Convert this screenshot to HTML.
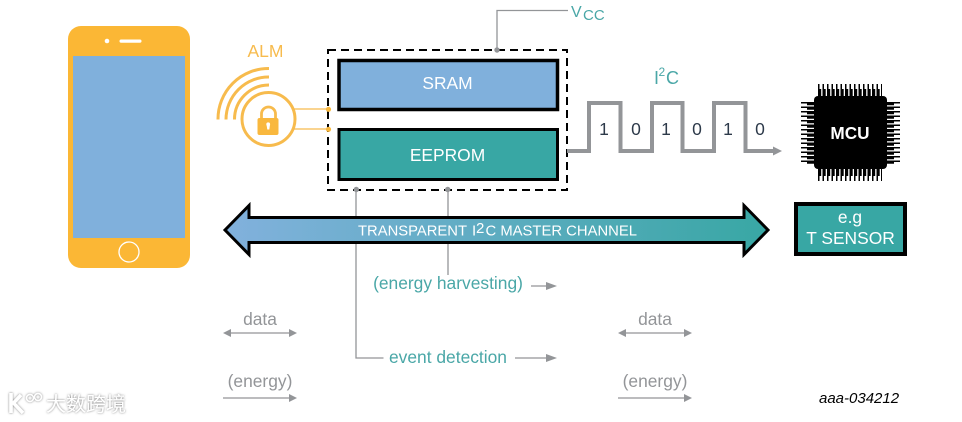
<!DOCTYPE html>
<html><head><meta charset="utf-8"><style>
html,body{margin:0;padding:0;background:#fff}
svg{display:block}
text{font-family:"Liberation Sans",Arial,sans-serif}
</style></head><body>
<svg width="962" height="422" viewBox="0 0 962 422" xmlns="http://www.w3.org/2000/svg">
<defs>
<linearGradient id="g" x1="223" x2="770" y1="0" y2="0" gradientUnits="userSpaceOnUse"><stop offset="0" stop-color="#82b1dd"/><stop offset="1" stop-color="#38a7a4"/></linearGradient>
<filter id="sh" x="-20%" y="-20%" width="140%" height="140%"><feDropShadow dx="0" dy="0" stdDeviation="1" flood-color="#666" flood-opacity="0.9"/></filter>
</defs>
<!-- phone -->
<rect x="68" y="26" width="122" height="242" rx="13" fill="#fbb735"/>
<rect x="73" y="56" width="112" height="182" fill="#80b0dc"/>
<circle cx="107" cy="41" r="2.300" fill="#fff"/>
<rect x="119.500" y="39.500" width="22" height="3.200" rx="1.600" fill="#fff"/>
<circle cx="129" cy="252" r="10" fill="none" stroke="#fff" stroke-width="1.300"/>
<!-- ALM -->
<text x="265.500" y="57" font-size="17.500" fill="#f7bb4d" text-anchor="middle">ALM</text>
<g fill="none" stroke="#f7bb4d">
<path d="M218 119.500A50.500 50.500 0 0 1 269 68.500" stroke-width="3"/>
<path d="M226 119.500A42.500 42.500 0 0 1 269 77" stroke-width="3"/>
<path d="M234.500 119.500A34.500 34.500 0 0 1 269 85" stroke-width="3"/>
<circle cx="268.500" cy="119" r="26.500" fill="#fff" stroke-width="3"/>
<path d="M261.500 120v-6a7 7 0 0 1 14 0v6" stroke-width="2.800"/>
<path d="M294 109H328M294 129H328" stroke-width="1.200"/>
</g>
<rect x="257.500" y="118" width="21" height="17" rx="2" fill="#f9b83e"/>
<path d="M266.500 124.500h3.500l-.7 5h-2z" fill="#fff"/>
<circle cx="268.200" cy="124.300" r="1.900" fill="#fff"/>
<!-- gray connectors -->
<g fill="none" stroke="#939598" stroke-width="1.300">
<path d="M497 50V10.500H568"/>
<path d="M356 190V358H383.500"/>
<path d="M448 190V275"/>
<path d="M531 286H548M515 358H548M231 333H289M223 398H289M626 333H684M618 398H684"/>
</g>
<g fill="#939598">
<path d="M546 282V290L557 286Z"/><path d="M546 354V362L557 358Z"/>
<path d="M223 333L231 329V337Z"/><path d="M297 333L289 329V337Z"/>
<path d="M297 398L289 394V402Z"/>
<path d="M618 333L626 329V337Z"/><path d="M692 333L684 329V337Z"/>
<path d="M692 398L684 394V402Z"/>
</g>
<!-- memory -->
<rect x="328" y="50" width="239" height="140" fill="none" stroke="#000" stroke-width="2" stroke-dasharray="8 5"/>
<circle cx="497" cy="50" r="2.700" fill="#939598"/><circle cx="356.300" cy="189.500" r="2.700" fill="#939598"/><circle cx="447.700" cy="189.500" r="2.700" fill="#939598"/>
<circle cx="328.500" cy="109.300" r="2.600" fill="#f9b83e"/><circle cx="328.500" cy="129.300" r="2.600" fill="#f9b83e"/>
<rect x="339" y="60.500" width="218.500" height="49" fill="#80b0dc" stroke="#000" stroke-width="3.500"/>
<rect x="339" y="129.500" width="218.500" height="50" fill="#38a7a4" stroke="#000" stroke-width="3"/>
<text x="447.500" y="89" font-size="17.400" fill="#fff" text-anchor="middle">SRAM</text>
<text x="447.500" y="161" font-size="17.400" fill="#fff" text-anchor="middle">EEPROM</text>
<text x="571" y="17" font-size="16" fill="#4aa7a7">V</text>
<text x="583" y="20" font-size="15" fill="#4aa7a7">CC</text>
<!-- waveform -->
<path d="M567 151H589V103H620.500V151H652V103H682.500V151H714V103H745.500V151H774" fill="none" stroke="#939598" stroke-width="4"/>
<path d="M773 146.500V155.500L782 151Z" fill="#939598"/>
<g font-size="17.500" fill="#2d3a4a" text-anchor="middle">
<text x="604" y="135">1</text><text x="636" y="135">0</text><text x="666" y="135">1</text><text x="697" y="135">0</text><text x="728" y="135">1</text><text x="760" y="135">0</text>
</g>
<text x="654" y="84" font-size="18" fill="#4aa7a7">I</text>
<text x="658.500" y="76" font-size="12" fill="#4aa7a7">2</text>
<text x="666" y="84" font-size="18" fill="#4aa7a7">C</text>
<!-- MCU -->
<g stroke="#000" fill="none">
<path stroke-width="12" stroke-dasharray="1.500 3" d="M818 90H882M818 175H882"/>
<path stroke-width="7" stroke-dasharray="3.200 1.300" d="M818 92.500H882M818 172.500H882"/>
<path stroke-width="13" stroke-dasharray="1.500 3" d="M807.500 102V165M893.500 102V165"/>
<path stroke-width="7" stroke-dasharray="3.200 1.300" d="M810.500 102V165M890.500 102V165"/>
</g>
<rect x="814" y="96" width="73" height="73" rx="4" fill="#000"/>
<text x="850" y="139" font-size="17.200" font-weight="bold" fill="#fff" text-anchor="middle">MCU</text>
<!-- sensor -->
<rect x="796" y="204" width="109" height="50" fill="#38a7a4" stroke="#000" stroke-width="4"/>
<text x="850" y="223" font-size="17.400" fill="#fff" text-anchor="middle">e.g</text>
<text x="850.500" y="244" font-size="17.400" fill="#fff" text-anchor="middle">T SENSOR</text>
<!-- big arrow -->
<path d="M225 230L249 205.500V217.500H744V205.500L768 230L744 254.500V242.500H249V254.500Z" fill="url(#g)" stroke="#000" stroke-width="3"/>
<text x="358" y="235.500" font-size="15" fill="#fff" textLength="109" lengthAdjust="spacingAndGlyphs">TRANSPARENT</text>
<text x="472" y="235.500" font-size="15" fill="#fff">I</text>
<text x="476" y="233" font-size="15" fill="#fff">2</text>
<text x="485.500" y="235.500" font-size="15" fill="#fff" textLength="151.500" lengthAdjust="spacingAndGlyphs">C MASTER CHANNEL</text>
<!-- labels -->
<g font-size="17.400" text-anchor="middle">
<text x="448" y="289" fill="#4aa7a7">(energy harvesting)</text>
<text x="448" y="363" fill="#4aa7a7">event detection</text>
<text x="260" y="325" fill="#939598">data</text>
<text x="260" y="387" fill="#939598">(energy)</text>
<text x="655" y="325" fill="#939598">data</text>
<text x="655" y="387" fill="#939598">(energy)</text>
</g>
<text x="819" y="403" font-size="15" font-style="italic" fill="#000">aaa-034212</text>
<!-- watermark -->
<g filter="url(#sh)">
<path d="M11 393V413M21 395L13.500 403L23 413" fill="none" stroke="#fff" stroke-width="3.500"/>
<circle cx="30" cy="398" r="3.500" fill="none" stroke="#fff" stroke-width="1.500"/>
<circle cx="38" cy="397" r="3.500" fill="none" stroke="#fff" stroke-width="1.500"/>
<text x="46" y="411" font-size="20" fill="#fff" style='font-family:"Liberation Sans","Noto Sans CJK SC",sans-serif'>大数跨境</text>
</g>
</svg>
</body></html>
